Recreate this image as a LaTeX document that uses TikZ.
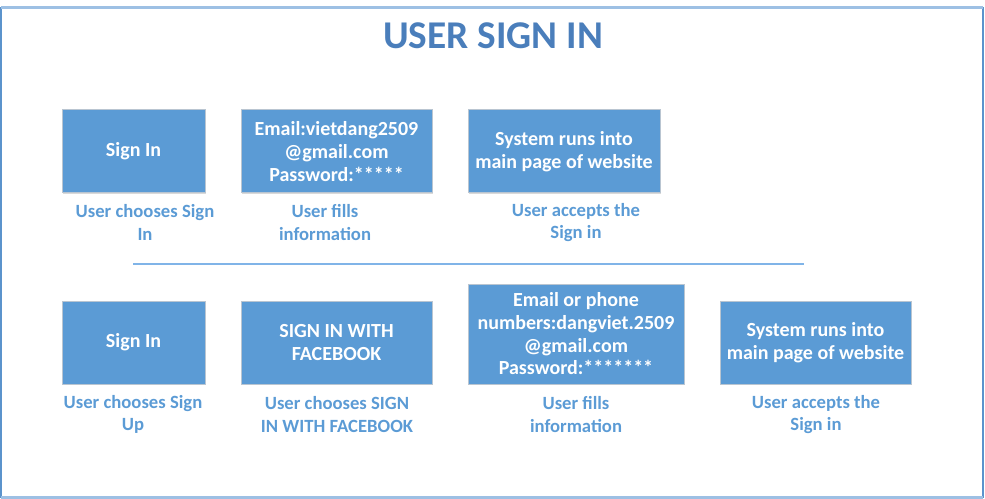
\documentclass[tikz,border=0pt]{standalone}
\usepackage{fontspec}
\setmainfont{Carlito}
\usepackage{xcolor}
\usetikzlibrary{shadows}
\definecolor{boxblue}{HTML}{5B9BD5}
\definecolor{boxedge}{HTML}{B9C5D1}
\definecolor{capblue}{HTML}{5B9BD5}
\definecolor{titleblue}{HTML}{4A7EBB}
\definecolor{frameblue}{HTML}{5B93CC}
\definecolor{frametop}{HTML}{9DC0E4}
\definecolor{sepblue}{HTML}{80B4E8}

\begin{document}
\begin{tikzpicture}[x=0.75pt,y=-0.75pt,
  font=\bfseries\fontsize{14pt}{17pt}\selectfont,
  actbox/.style={draw=boxedge,line width=0.75pt,fill=boxblue,text=white,align=center,inner sep=0pt,
    font=\bfseries\fontsize{15pt}{17pt}\selectfont,
    drop shadow={shadow xshift=0.8pt,shadow yshift=-0.8pt,fill=black,opacity=0.15}},
  caption/.style={text=capblue,align=center,inner sep=0pt}]
  \useasboundingbox (0,0) rectangle (985,499);
  % frame
  \draw[frameblue,line width=1.1pt] (1,7.5) rectangle (983,497.5);
  \draw[frametop,line width=1.6pt] (1,7.5) -- (983,7.5) (1,497.5) -- (983,497.5);
  \node[text=titleblue,font=\bfseries\fontsize{29.5pt}{34pt}\selectfont] (title) at (493,36) {USER SIGN IN};
  % boxes
  \foreach \n/\x/\y/\w/\h/\lab in {
     signA/133.5/151.5/143/83/{Sign In},
     fillA/336.5/151.5/191/83/{Email:vietdang2509\\@gmail.com\\Password:*****},
     runA/564/151.5/192/83/{System runs into\\main page of website},
     signB/133.5/342.5/143/83/{Sign In},
     fbB/336.5/342.5/191/83/{SIGN IN WITH\\FACEBOOK},
     fillB/576/334/216/100/{Email or phone\\numbers:dangviet.2509\\@gmail.com\\Password:*******},
     runB/815.5/342.5/191/83/{System runs into\\main page of website}}
  { \node[actbox,minimum width=\w*0.75pt,minimum height=\h*0.75pt] (\n) at (\x,\y) {\lab}; }
  % captions
  \foreach \n/\x/\y/\lab in {
     capA1/145/222.5/{User chooses Sign\\In},
     capA2/325/222.5/{User fills\\information},
     capA3/576/222.5/{User accepts the\\Sign in},
     capB1/133/414.5/{User chooses Sign\\Up},
     capB2/337/414.5/{User chooses SIGN\\IN WITH FACEBOOK},
     capB3/576/414.5/{User fills\\information},
     capB4/816/414.5/{User accepts the\\Sign in}}
  { \node[caption] (\n) at (\x,\y) {\lab}; }
  % separator
  \coordinate (sepL) at (133,264);
  \coordinate (sepR) at (804,264);
  \draw[sepblue,line width=1.1pt] (sepL) -- (sepR);
\end{tikzpicture}
\end{document}
